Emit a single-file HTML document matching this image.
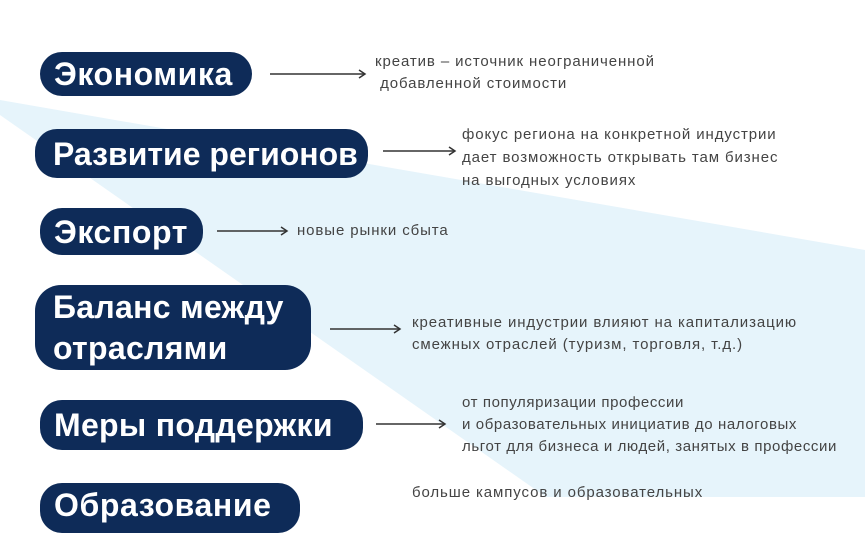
<!DOCTYPE html>
<html><head><meta charset="utf-8"><style>
html,body{margin:0;padding:0;}
body{width:865px;height:497px;position:relative;overflow:hidden;background:#fff;font-family:"Liberation Sans","Noto Sans CJK SC",sans-serif;}
.pill{position:absolute;background:#0e2b58;color:#fff;font-weight:bold;font-size:32px;letter-spacing:0.6px;border-radius:22px;box-sizing:border-box;padding-left:14px;white-space:nowrap;line-height:1;display:flex;align-items:center;}
.d{position:absolute;color:#444;font-size:15px;letter-spacing:0.9px;line-height:22px;white-space:nowrap;}
svg{position:absolute;left:0;top:0;}
</style></head><body>
<svg width="865" height="497">
<polygon points="0,100 865,250 865,497 546,497 0,115" fill="#e6f4fb"/>
<g stroke="#333" stroke-width="1.5" fill="none">
<line x1="270" y1="74" x2="364" y2="74"/><polyline points="359,70 365,74 359,78"/>
<line x1="383" y1="151" x2="454" y2="151"/><polyline points="449,147 455,151 449,155"/>
<line x1="217" y1="231" x2="286" y2="231"/><polyline points="281,227 287,231 281,235"/>
<line x1="330" y1="329" x2="399" y2="329"/><polyline points="394,325 400,329 394,333"/>
<line x1="376" y1="424" x2="444" y2="424"/><polyline points="439,420 445,424 439,428"/>
</g>
</svg>
<div class="pill" style="left:40px;top:52px;width:212px;height:44px;">Экономика</div>
<div class="pill" style="left:35px;top:129px;width:333px;height:49px;padding-left:18px;letter-spacing:0;">Развитие регионов</div>
<div class="pill" style="left:40px;top:208px;width:163px;height:47px;">Экспорт</div>
<div class="pill" style="left:35px;top:285px;width:276px;height:85px;border-radius:26px;padding-left:18px;line-height:41px;white-space:normal;letter-spacing:0.3px;">Баланс между<br>отраслями</div>
<div class="pill" style="left:40px;top:400px;width:323px;height:50px;letter-spacing:0.3px;">Меры поддержки</div>
<div class="pill" style="left:40px;top:483px;width:260px;height:50px;align-items:flex-start;padding-top:6px;">Образование</div>

<div class="d" style="left:375px;top:51px;">креатив – источник неограниченной<br>&nbsp;добавленной стоимости</div>
<div class="d" style="left:462px;top:123px;line-height:23px;">фокус региона на конкретной индустрии<br>дает возможность открывать там бизнес<br>на выгодных условиях</div>
<div class="d" style="left:297px;top:220px;">новые рынки сбыта</div>
<div class="d" style="left:412px;top:312px;">креативные индустрии влияют на капитализацию<br>смежных отраслей (туризм, торговля, т.д.)</div>
<div class="d" style="left:462px;top:392px;line-height:22px;letter-spacing:0.6px;">от популяризации профессии<br>и образовательных инициатив до налоговых<br>льгот для бизнеса и людей, занятых в профессии</div>
<div class="d" style="left:412px;top:482px;">больше кампусов и образовательных</div>
</body></html>
